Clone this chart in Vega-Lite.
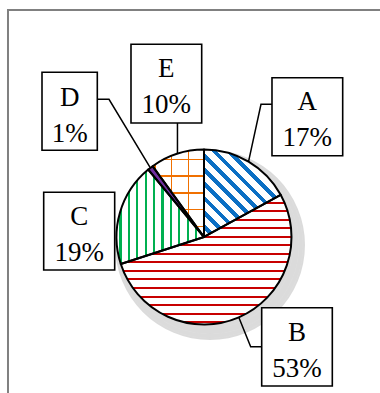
{
  "$schema": "https://vega.github.io/schema/vega-lite/v6.json",
  "width": 380,
  "height": 393,
  "autosize": "none",
  "padding": 0,
  "background": "white",
  "config": {"view": {"stroke": null}},
  "datasets": {
    "slices": [
      {"k": "A", "v": 17, "o": 1, "t": "A\n17%", "bx1": 2.331, "bx2": 4.755, "by1": 5.462, "by2": 2.787, "lx": 3.542, "ly": 4.354},
      {"k": "B", "v": 53, "o": 2, "t": "B\n53%", "bx1": 1.978, "bx2": 4.399, "by1": -2.424, "by2": -5.109, "lx": 3.189, "ly": -3.555},
      {"k": "C", "v": 19, "o": 3, "t": "C\n19%", "bx1": -5.496, "bx2": -3.062, "by1": 1.533, "by2": -1.131, "lx": -4.279, "ly": 0.411},
      {"k": "D", "v": 1, "o": 4, "t": "D\n1%", "bx1": -5.554, "bx2": -3.658, "by1": 5.647, "by2": 2.973, "lx": -4.605, "ly": 4.491},
      {"k": "E", "v": 10, "o": 5, "t": "E\n10%", "bx1": -2.503, "bx2": -0.079, "by1": 6.607, "by2": 3.909, "lx": -1.293, "ly": 5.475}
    ],
    "leaders": [
      {"g": "A", "o": 1, "X": 2.331, "Y": 4.55},
      {"g": "A", "o": 2, "X": 1.954, "Y": 4.55},
      {"g": "A", "o": 3, "X": 1.527, "Y": 2.582},
      {"g": "E", "o": 1, "X": -0.91, "Y": 3.909},
      {"g": "E", "o": 2, "X": -0.91, "Y": 2.853},
      {"g": "D", "o": 1, "X": -3.658, "Y": 4.721},
      {"g": "D", "o": 2, "X": -3.257, "Y": 4.721},
      {"g": "D", "o": 3, "X": -1.839, "Y": 2.37},
      {"g": "B", "o": 1, "X": 1.978, "Y": -3.761},
      {"g": "B", "o": 2, "X": 1.601, "Y": -3.761},
      {"g": "B", "o": 3, "X": 1.192, "Y": -2.753}
    ],
    "rings": [{"ring": 1}, {"ring": 2}, {"ring": 3}, {"ring": 4}, {"ring": 5}, {"ring": 6}, {"ring": 7}, {"ring": 8}],
    "one": [{"n": 1}]
  },
  "data": {"name": "slices"},
  "layer": [
    {
      "data": {"name": "one"},
      "mark": {"type": "rule", "color": "#808080", "strokeWidth": 2},
      "encoding": {
        "x": {"datum": -6.754, "type": "quantitative", "scale": {"domain": [-6.994, 6.034], "nice": false, "zero": false}, "axis": null},
        "x2": {"datum": 6.034},
        "y": {"datum": 7.783, "type": "quantitative", "scale": {"domain": [-5.349, 8.126], "nice": false, "zero": false}, "axis": null}
      }
    },
    {
      "data": {"name": "one"},
      "mark": {"type": "rule", "color": "#808080", "strokeWidth": 2},
      "encoding": {
        "x": {"datum": -6.72, "type": "quantitative", "scale": {"domain": [-6.994, 6.034], "nice": false, "zero": false}, "axis": null},
        "y": {"datum": 7.817, "type": "quantitative", "scale": {"domain": [-5.349, 8.126], "nice": false, "zero": false}, "axis": null},
        "y2": {"datum": -5.349}
      }
    },
    {
      "data": {"name": "rings"},
      "mark": {"type": "arc", "theta": 0, "theta2": 6.2832, "fill": "black", "fillOpacity": 0.14, "stroke": null},
      "encoding": {
        "x": {"datum": 0.206, "type": "quantitative", "scale": {"domain": [-6.994, 6.034], "nice": false, "zero": false}, "axis": null},
        "y": {"datum": -0.274, "type": "quantitative", "scale": {"domain": [-5.349, 8.126], "nice": false, "zero": false}, "axis": null},
        "radius": {"field": "ring", "type": "quantitative", "scale": {"type": "linear", "domain": [1, 8], "range": [93, 79], "zero": false}, "legend": null}
      }
    },
    {
      "mark": {"type": "arc", "radius": 87.5, "stroke": null},
      "encoding": {
        "theta": {"field": "v", "type": "quantitative", "stack": true},
        "order": {"field": "o", "type": "quantitative"},
        "x": {"datum": 0, "type": "quantitative", "scale": {"domain": [-6.994, 6.034], "nice": false, "zero": false}, "axis": null},
        "y": {"datum": 0, "type": "quantitative", "scale": {"domain": [-5.349, 8.126], "nice": false, "zero": false}, "axis": null},
        "fill": {
          "condition": [
            {"test": "datum.k === 'A'", "value": {"gradient": "linear", "x1": 0, "y1": 1, "x2": 0.8763, "y2": 0, "stops": [
              {"offset": 0, "color": "white"},
              {"offset": 0.0483, "color": "white"}, {"offset": 0.0483, "color": "#0b6fc4"}, {"offset": 0.0849, "color": "#0b6fc4"}, {"offset": 0.0849, "color": "white"},
              {"offset": 0.1407, "color": "white"}, {"offset": 0.1407, "color": "#0b6fc4"}, {"offset": 0.1773, "color": "#0b6fc4"}, {"offset": 0.1773, "color": "white"},
              {"offset": 0.2331, "color": "white"}, {"offset": 0.2331, "color": "#0b6fc4"}, {"offset": 0.2697, "color": "#0b6fc4"}, {"offset": 0.2697, "color": "white"},
              {"offset": 0.3255, "color": "white"}, {"offset": 0.3255, "color": "#0b6fc4"}, {"offset": 0.3621, "color": "#0b6fc4"}, {"offset": 0.3621, "color": "white"},
              {"offset": 0.4179, "color": "white"}, {"offset": 0.4179, "color": "#0b6fc4"}, {"offset": 0.4545, "color": "#0b6fc4"}, {"offset": 0.4545, "color": "white"},
              {"offset": 0.5103, "color": "white"}, {"offset": 0.5103, "color": "#0b6fc4"}, {"offset": 0.5469, "color": "#0b6fc4"}, {"offset": 0.5469, "color": "white"},
              {"offset": 0.6028, "color": "white"}, {"offset": 0.6028, "color": "#0b6fc4"}, {"offset": 0.6394, "color": "#0b6fc4"}, {"offset": 0.6394, "color": "white"},
              {"offset": 0.6952, "color": "white"}, {"offset": 0.6952, "color": "#0b6fc4"}, {"offset": 0.7318, "color": "#0b6fc4"}, {"offset": 0.7318, "color": "white"},
              {"offset": 1, "color": "white"}
            ]}},
            {"test": "datum.k === 'B'", "value": {"gradient": "linear", "x1": 0, "y1": 0, "x2": 0, "y2": 1, "stops": [
              {"offset": 0, "color": "white"},
              {"offset": 0.0517, "color": "white"}, {"offset": 0.0517, "color": "#c80000"}, {"offset": 0.0671, "color": "#c80000"}, {"offset": 0.0671, "color": "white"},
              {"offset": 0.1176, "color": "white"}, {"offset": 0.1176, "color": "#c80000"}, {"offset": 0.133, "color": "#c80000"}, {"offset": 0.133, "color": "white"},
              {"offset": 0.1835, "color": "white"}, {"offset": 0.1835, "color": "#c80000"}, {"offset": 0.1989, "color": "#c80000"}, {"offset": 0.1989, "color": "white"},
              {"offset": 0.2494, "color": "white"}, {"offset": 0.2494, "color": "#c80000"}, {"offset": 0.2648, "color": "#c80000"}, {"offset": 0.2648, "color": "white"},
              {"offset": 0.3153, "color": "white"}, {"offset": 0.3153, "color": "#c80000"}, {"offset": 0.3308, "color": "#c80000"}, {"offset": 0.3308, "color": "white"},
              {"offset": 0.3813, "color": "white"}, {"offset": 0.3813, "color": "#c80000"}, {"offset": 0.3967, "color": "#c80000"}, {"offset": 0.3967, "color": "white"},
              {"offset": 0.4472, "color": "white"}, {"offset": 0.4472, "color": "#c80000"}, {"offset": 0.4626, "color": "#c80000"}, {"offset": 0.4626, "color": "white"},
              {"offset": 0.5131, "color": "white"}, {"offset": 0.5131, "color": "#c80000"}, {"offset": 0.5285, "color": "#c80000"}, {"offset": 0.5285, "color": "white"},
              {"offset": 0.579, "color": "white"}, {"offset": 0.579, "color": "#c80000"}, {"offset": 0.5944, "color": "#c80000"}, {"offset": 0.5944, "color": "white"},
              {"offset": 0.6449, "color": "white"}, {"offset": 0.6449, "color": "#c80000"}, {"offset": 0.6603, "color": "#c80000"}, {"offset": 0.6603, "color": "white"},
              {"offset": 0.7109, "color": "white"}, {"offset": 0.7109, "color": "#c80000"}, {"offset": 0.7263, "color": "#c80000"}, {"offset": 0.7263, "color": "white"},
              {"offset": 0.7768, "color": "white"}, {"offset": 0.7768, "color": "#c80000"}, {"offset": 0.7922, "color": "#c80000"}, {"offset": 0.7922, "color": "white"},
              {"offset": 0.8427, "color": "white"}, {"offset": 0.8427, "color": "#c80000"}, {"offset": 0.8581, "color": "#c80000"}, {"offset": 0.8581, "color": "white"},
              {"offset": 0.9086, "color": "white"}, {"offset": 0.9086, "color": "#c80000"}, {"offset": 0.924, "color": "#c80000"}, {"offset": 0.924, "color": "white"},
              {"offset": 0.9745, "color": "white"}, {"offset": 0.9745, "color": "#c80000"}, {"offset": 0.9899, "color": "#c80000"}, {"offset": 0.9899, "color": "white"},
              {"offset": 1, "color": "white"}
            ]}},
            {"test": "datum.k === 'C'", "value": {"gradient": "linear", "x1": 0, "y1": 0, "x2": 1, "y2": 0, "stops": [
              {"offset": 0, "color": "white"},
              {"offset": 0.032, "color": "white"}, {"offset": 0.032, "color": "#00b050"}, {"offset": 0.0594, "color": "#00b050"}, {"offset": 0.0594, "color": "white"},
              {"offset": 0.128, "color": "white"}, {"offset": 0.128, "color": "#00b050"}, {"offset": 0.1554, "color": "#00b050"}, {"offset": 0.1554, "color": "white"},
              {"offset": 0.224, "color": "white"}, {"offset": 0.224, "color": "#00b050"}, {"offset": 0.2514, "color": "#00b050"}, {"offset": 0.2514, "color": "white"},
              {"offset": 0.32, "color": "white"}, {"offset": 0.32, "color": "#00b050"}, {"offset": 0.3474, "color": "#00b050"}, {"offset": 0.3474, "color": "white"},
              {"offset": 0.416, "color": "white"}, {"offset": 0.416, "color": "#00b050"}, {"offset": 0.4434, "color": "#00b050"}, {"offset": 0.4434, "color": "white"},
              {"offset": 0.512, "color": "white"}, {"offset": 0.512, "color": "#00b050"}, {"offset": 0.5394, "color": "#00b050"}, {"offset": 0.5394, "color": "white"},
              {"offset": 0.608, "color": "white"}, {"offset": 0.608, "color": "#00b050"}, {"offset": 0.6354, "color": "#00b050"}, {"offset": 0.6354, "color": "white"},
              {"offset": 0.704, "color": "white"}, {"offset": 0.704, "color": "#00b050"}, {"offset": 0.7314, "color": "#00b050"}, {"offset": 0.7314, "color": "white"},
              {"offset": 0.8, "color": "white"}, {"offset": 0.8, "color": "#00b050"}, {"offset": 0.8274, "color": "#00b050"}, {"offset": 0.8274, "color": "white"},
              {"offset": 0.896, "color": "white"}, {"offset": 0.896, "color": "#00b050"}, {"offset": 0.9234, "color": "#00b050"}, {"offset": 0.9234, "color": "white"},
              {"offset": 1, "color": "white"}
            ]}},
            {"test": "datum.k === 'D'", "value": "#7030a0"}
          ],
          "value": {"gradient": "linear", "x1": 0, "y1": 0, "x2": 1, "y2": 0, "stops": [
            {"offset": 0, "color": "white"},
            {"offset": 0.0321, "color": "white"}, {"offset": 0.0321, "color": "#f07000"}, {"offset": 0.0613, "color": "#f07000"}, {"offset": 0.0613, "color": "white"},
            {"offset": 0.357, "color": "white"}, {"offset": 0.357, "color": "#f07000"}, {"offset": 0.3862, "color": "#f07000"}, {"offset": 0.3862, "color": "white"},
            {"offset": 0.68, "color": "white"}, {"offset": 0.68, "color": "#f07000"}, {"offset": 0.7091, "color": "#f07000"}, {"offset": 0.7091, "color": "white"},
            {"offset": 1, "color": "white"}
          ]}
        }
      }
    },
    {
      "mark": {"type": "arc", "radius": 87.5, "stroke": "black", "strokeWidth": 2, "strokeJoin": "round"},
      "encoding": {
        "theta": {"field": "v", "type": "quantitative", "stack": true},
        "order": {"field": "o", "type": "quantitative"},
        "x": {"datum": 0, "type": "quantitative", "scale": {"domain": [-6.994, 6.034], "nice": false, "zero": false}, "axis": null},
        "y": {"datum": 0, "type": "quantitative", "scale": {"domain": [-5.349, 8.126], "nice": false, "zero": false}, "axis": null},
        "fill": {
          "condition": {"test": "datum.k === 'E'", "value": {"gradient": "linear", "x1": 0, "y1": 0, "x2": 0, "y2": 1, "stops": [
            {"offset": 0, "color": "rgba(240,112,0,0)"},
            {"offset": 0.1057, "color": "rgba(240,112,0,0)"}, {"offset": 0.1057, "color": "#f07000"}, {"offset": 0.1229, "color": "#f07000"}, {"offset": 0.1229, "color": "rgba(240,112,0,0)"},
            {"offset": 0.2966, "color": "rgba(240,112,0,0)"}, {"offset": 0.2966, "color": "#f07000"}, {"offset": 0.3137, "color": "#f07000"}, {"offset": 0.3137, "color": "rgba(240,112,0,0)"},
            {"offset": 0.4874, "color": "rgba(240,112,0,0)"}, {"offset": 0.4874, "color": "#f07000"}, {"offset": 0.5046, "color": "#f07000"}, {"offset": 0.5046, "color": "rgba(240,112,0,0)"},
            {"offset": 0.6783, "color": "rgba(240,112,0,0)"}, {"offset": 0.6783, "color": "#f07000"}, {"offset": 0.6954, "color": "#f07000"}, {"offset": 0.6954, "color": "rgba(240,112,0,0)"},
            {"offset": 0.8691, "color": "rgba(240,112,0,0)"}, {"offset": 0.8691, "color": "#f07000"}, {"offset": 0.8863, "color": "#f07000"}, {"offset": 0.8863, "color": "rgba(240,112,0,0)"},
            {"offset": 1, "color": "rgba(240,112,0,0)"}
          ]}},
          "value": "transparent"
        }
      }
    },
    {
      "data": {"name": "leaders"},
      "mark": {"type": "line", "color": "black", "strokeWidth": 1.5},
      "encoding": {
        "x": {"field": "X", "type": "quantitative", "scale": {"domain": [-6.994, 6.034], "nice": false, "zero": false}, "axis": null},
        "y": {"field": "Y", "type": "quantitative", "scale": {"domain": [-5.349, 8.126], "nice": false, "zero": false}, "axis": null},
        "detail": {"field": "g", "type": "nominal"},
        "order": {"field": "o", "type": "quantitative"}
      }
    },
    {
      "mark": {"type": "rect", "fill": "white", "stroke": "black", "strokeWidth": 1.6},
      "encoding": {
        "x": {"field": "bx1", "type": "quantitative", "scale": {"domain": [-6.994, 6.034], "nice": false, "zero": false}, "axis": null},
        "x2": {"field": "bx2"},
        "y": {"field": "by1", "type": "quantitative", "scale": {"domain": [-5.349, 8.126], "nice": false, "zero": false}, "axis": null},
        "y2": {"field": "by2"}
      }
    },
    {
      "mark": {"type": "text", "font": "Liberation Serif", "fontSize": 27, "lineBreak": "\n", "lineHeight": 36, "align": "center", "baseline": "alphabetic", "color": "black"},
      "encoding": {
        "x": {"field": "lx", "type": "quantitative", "scale": {"domain": [-6.994, 6.034], "nice": false, "zero": false}, "axis": null},
        "y": {"field": "ly", "type": "quantitative", "scale": {"domain": [-5.349, 8.126], "nice": false, "zero": false}, "axis": null},
        "text": {"field": "t", "type": "nominal"}
      }
    }
  ]
}
